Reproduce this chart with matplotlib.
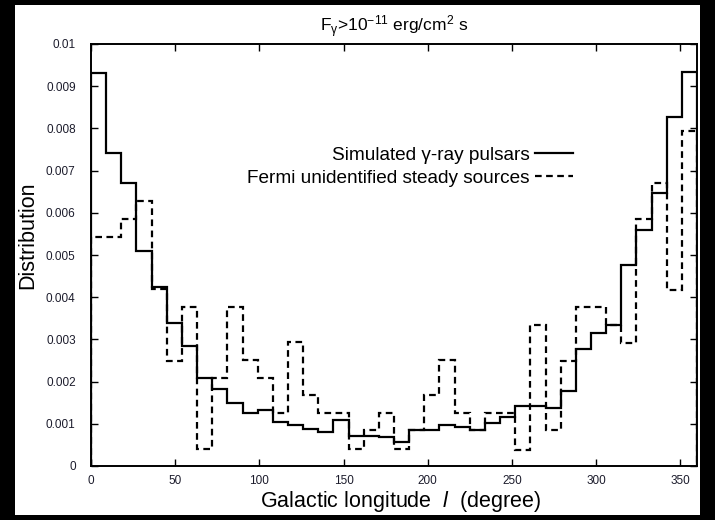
import matplotlib
matplotlib.use("Agg")
from matplotlib import pyplot as plt
from matplotlib.patches import Rectangle
import numpy as np

# 40 bins of 9 degrees, values in units of 1e-3
bin_edges = np.arange(0, 361, 9)
pulsars = [9.31, 7.41, 6.71, 5.10, 4.23, 3.38, 2.85, 2.08, 1.82, 1.49,
           1.25, 1.32, 1.05, 0.96, 0.87, 0.80, 1.08, 0.72, 0.70, 0.68,
           0.58, 0.85, 0.86, 0.96, 0.93, 0.85, 1.01, 1.17, 1.43, 1.43,
           1.37, 1.77, 2.78, 3.14, 3.33, 4.76, 5.59, 6.48, 8.26, 9.34]
fermi = [5.43, 5.43, 5.85, 6.28, 4.19, 2.50, 3.76, 0.41, 2.08, 3.76,
         2.51, 2.08, 1.26, 2.93, 1.68, 1.26, 1.26, 0.40, 0.85, 1.26,
         0.40, 0.85, 1.68, 2.52, 1.26, 0.85, 1.26, 1.26, 0.39, 3.35,
         0.85, 2.48, 3.77, 3.77, 3.33, 2.92, 5.85, 6.70, 4.18, 7.95]

xticks = [0, 50, 100, 150, 200, 250, 300, 350]
yticks = [0, 0.001, 0.002, 0.003, 0.004, 0.005, 0.006, 0.007, 0.008, 0.009, 0.01]
ytick_labels = ['0', '0.001', '0.002', '0.003', '0.004', '0.005', '0.006',
                '0.007', '0.008', '0.009', '0.01']

plt.rcParams['font.family'] = ['Liberation Sans', 'DejaVu Sans']
plt.rcParams['mathtext.fontset'] = 'custom'
plt.rcParams['mathtext.rm'] = 'Liberation Sans'
plt.rcParams['mathtext.it'] = 'Liberation Sans:italic'

fig = plt.figure(figsize=(7.15, 5.2), dpi=100, facecolor='black')
# white page inside the black frame
fig.patches.append(Rectangle((15 / 715, 5 / 520), 685 / 715, 510 / 520,
                             transform=fig.transFigure, facecolor='white',
                             edgecolor='none', zorder=-10))
ax = fig.add_axes([91 / 715, 1 - 466 / 520, 606 / 715, 422 / 520])

y_p = np.array(pulsars) * 1e-3
y_f = np.array(fermi) * 1e-3
ax.stairs(y_p, bin_edges, color='black', linewidth=1.6, linestyle='-',
          label='Simulated γ-ray pulsars')
ax.stairs(y_f, bin_edges, color='black', linewidth=1.6, linestyle=(0, (3, 2)),
          label='Fermi unidentified steady sources')

ax.set_xlim(0, 360)
ax.set_ylim(0, 0.01)
ax.set_xticks(xticks)
ax.set_yticks(yticks)
ax.set_yticklabels(ytick_labels)
ax.tick_params(direction='in', top=True, right=True, length=5, width=1,
               labelsize=8.5, labelcolor='#1c1c2c')
ax.tick_params(axis='y', pad=11)
ax.tick_params(axis='x', pad=6.5, labeltop=False)
for s in ax.spines.values():
    s.set_linewidth(1.4)

ax.set_title('F$_{\\mathrm{γ}}$>10$^{-11}$ erg/cm$^2$ s', fontsize=12.5, pad=9)
ax.set_xlabel('Galactic longitude  $l$  (degree)', fontsize=15.5)
ax.set_ylabel('Distribution', fontsize=15.5)
ax.xaxis.set_label_coords(0.5116, -0.054)
ax.yaxis.set_label_coords(-0.0875, 0.547)

ax.legend(loc='upper right', bbox_to_anchor=(0.795, 0.757), frameon=False,
          markerfirst=False, fontsize=13.7, handlelength=2.0,
          handletextpad=0.25, borderpad=0, borderaxespad=0, labelspacing=0.3)

fig.savefig('out.png', dpi=100, facecolor='black')
